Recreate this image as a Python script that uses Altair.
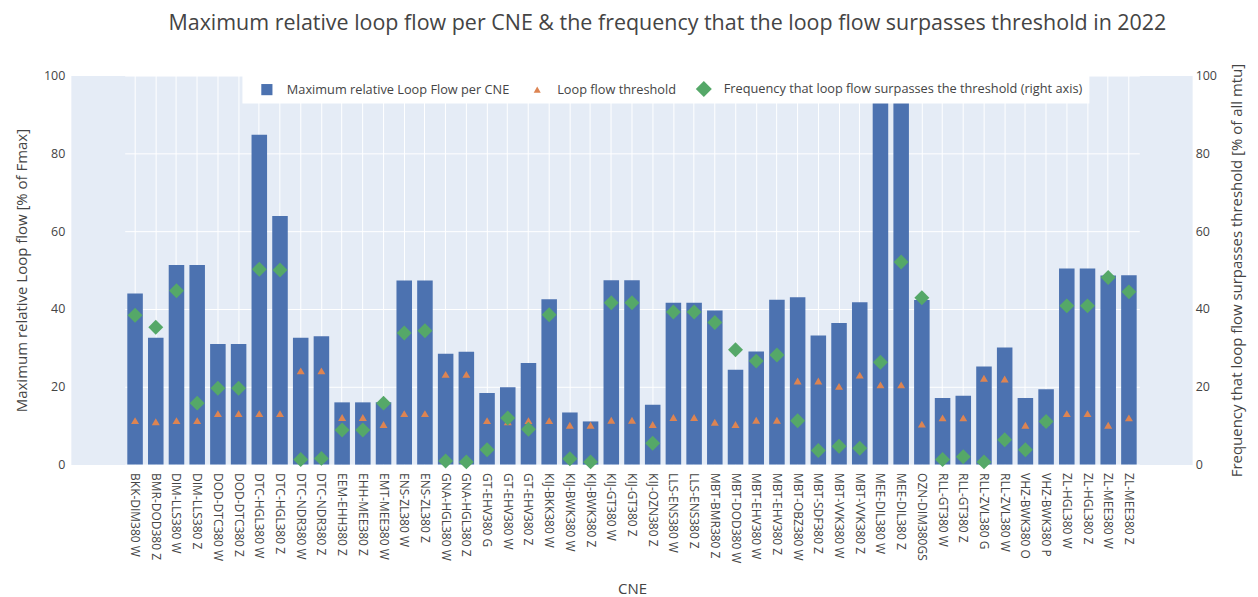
import altair as alt
import pandas as pd

cne = [
    "BKK-DIM380 W", "BMR-DOD380 Z", "DIM-LLS380 W", "DIM-LLS380 Z", "DOD-DTC380 W",
    "DOD-DTC380 Z", "DTC-HGL380 W", "DTC-HGL380 Z", "DTC-NDR380 W", "DTC-NDR380 Z",
    "EEM-EHH380 Z", "EHH-MEE380 Z", "EMT-MEE380 W", "ENS-ZL380 W", "ENS-ZL380 Z",
    "GNA-HGL380 W", "GNA-HGL380 Z", "GT-EHV380 G", "GT-EHV380 W", "GT-EHV380 Z",
    "KIJ-BKK380 W", "KIJ-BWK380 W", "KIJ-BWK380 Z", "KIJ-GT380 W", "KIJ-GT380 Z",
    "KIJ-OZN380 Z", "LLS-ENS380 W", "LLS-ENS380 Z", "MBT-BMR380 Z", "MBT-DOD380 W",
    "MBT-EHV380 W", "MBT-EHV380 Z", "MBT-OBZ380 W", "MBT-SDF380 Z", "MBT-VVK380 W",
    "MBT-VVK380 Z", "MEE-DIL380 W", "MEE-DIL380 Z", "OZN-DIM380GS", "RLL-GT380 W",
    "RLL-GT380 Z", "RLL-ZVL380 G", "RLL-ZVL380 W", "VHZ-BWK380 O", "VHZ-BWK380 P",
    "ZL-HGL380 W", "ZL-HGL380 Z", "ZL-MEE380 W", "ZL-MEE380 Z",
]

max_loop_flow = [
    44.0, 32.6, 51.3, 51.3, 31.0, 31.0, 84.8, 63.9, 32.6, 33.0,
    16.0, 16.0, 16.0, 47.3, 47.3, 28.5, 29.0, 18.4, 19.9, 26.1,
    42.5, 13.4, 11.1, 47.4, 47.4, 15.4, 41.6, 41.6, 39.6, 24.4,
    29.1, 42.4, 43.0, 33.2, 36.4, 41.7, 100.0, 100.0, 42.3, 17.1,
    17.7, 25.2, 30.1, 17.1, 19.4, 50.4, 50.4, 48.6, 48.7,
]

threshold = [
    11.3, 11.0, 11.3, 11.3, 13.1, 13.1, 13.1, 13.1, 24.1, 24.1,
    12.1, 12.1, 10.3, 13.1, 13.1, 23.2, 23.2, 11.3, 11.0, 11.3,
    11.3, 10.1, 10.1, 11.4, 11.4, 10.3, 12.1, 12.1, 10.9, 10.3,
    11.4, 11.4, 21.5, 21.5, 20.1, 23.0, 20.5, 20.5, 10.4, 12.0,
    12.0, 22.2, 22.0, 10.1, 11.0, 13.1, 13.1, 10.1, 12.0,
]

frequency = [
    38.4, 35.3, 44.7, 15.8, 19.6, 19.6, 50.2, 50.0, 1.3, 1.6,
    8.9, 8.9, 15.8, 33.8, 34.4, 0.9, 0.7, 3.8, 12.0, 9.1,
    38.5, 1.5, 0.7, 41.6, 41.6, 5.5, 39.2, 39.2, 36.5, 29.5,
    26.6, 28.2, 11.3, 3.6, 4.7, 4.2, 26.3, 52.1, 42.9, 1.3,
    2.0, 0.7, 6.4, 3.8, 11.1, 40.8, 40.8, 48.1, 44.4,
]

axis_ticks = [0, 20, 40, 60, 80, 100]

series_names = [
    "Maximum relative Loop Flow per CNE",
    "Loop flow threshold",
    "Frequency that loop flow surpasses the threshold (right axis)",
]
series_colors = ["#4C72B0", "#DD8452", "#55A868"]
series_shapes = [
    "M-0.7,-0.7L0.7,-0.7L0.7,0.7L-0.7,0.7Z",
    "M0,-0.38L0.44,0.38L-0.44,0.38Z",
    "M0,-1L1,0L0,1L-1,0Z",
]

df = pd.DataFrame({"cne": cne, "max_lf": max_loop_flow, "threshold": threshold, "freq": frequency})

FONT = "Open Sans"
TXT = "#444444"

legend = alt.Legend(
    title=None, orient="none", legendX=172, legendY=-1, direction="horizontal",
    fillColor="white", padding=6.5, symbolOffset=10, labelOffset=12, columnPadding=9,
    symbolSize=256, labelFont=FONT, labelFontSize=12.8, labelColor=TXT, labelLimit=600,
    symbolOpacity=1, symbolStrokeWidth=0,
)
color_scale = alt.Scale(domain=series_names, range=series_colors)
shape_scale = alt.Scale(domain=series_names, range=series_shapes)

x_scale = alt.Scale(range=[54, 1071], paddingInner=0.25, paddingOuter=0.125)
x_axis = alt.Axis(title="CNE", labelAngle=90, labelPadding=8, grid=True, titlePadding=19)
xenc = alt.X("cne:N", sort=cne, scale=x_scale, axis=x_axis)

y_scale = alt.Scale(domain=[0, 100])
left_axis = alt.Axis(values=axis_ticks, title="Maximum relative Loop flow [% of Fmax]",
                     labelPadding=6, titlePadding=14, grid=True, labelFontSize=12.5)
right_axis = alt.Axis(values=axis_ticks, orient="right", grid=False,
                      title="Frequency that loop flow surpasses threshold [% of all mtu]",
                      labelPadding=3, titlePadding=13, titleAngle=270, titleBaseline="top",
                      labelFontSize=12.5)

color_enc = alt.Color("series:N", scale=color_scale, legend=legend)
shape_enc = alt.Shape("series:N", scale=shape_scale, legend=legend)

base = alt.Chart(df)

bars = base.mark_bar().transform_calculate(series=f"'{series_names[0]}'").encode(
    x=xenc,
    y=alt.Y("max_lf:Q", scale=y_scale, axis=left_axis),
    color=color_enc,
)

tri = base.mark_point(filled=True, opacity=1, size=331).transform_calculate(
    series=f"'{series_names[1]}'"
).encode(
    x=xenc,
    y=alt.Y("threshold:Q", scale=y_scale, axis=left_axis),
    color=color_enc,
    shape=shape_enc,
)

dia = base.mark_point(filled=True, opacity=1, size=225).transform_calculate(
    series=f"'{series_names[2]}'"
).encode(
    x=xenc,
    y=alt.Y("freq:Q", scale=y_scale, axis=right_axis),
    color=color_enc,
    shape=shape_enc,
)

left = alt.layer(bars, tri)

chart = alt.layer(left, dia).resolve_scale(y="independent").properties(
    width=1124,
    height=390,
    autosize=alt.AutoSizeParams(type="none"),
    padding={"left": 63, "top": 67, "right": 58, "bottom": 132},
    title=alt.TitleParams(
        text="Maximum relative loop flow per CNE & the frequency that the loop flow surpasses threshold in 2022",
        font=FONT, fontSize=21.5, fontWeight="normal", color=TXT, anchor="middle",
        frame="group", dx=36, offset=29,
    ),
).configure(font=FONT, background="white").configure_view(
    fill="#E5ECF6", stroke="transparent"
).configure_axis(
    domain=False, ticks=False, tickSize=0, labelFont=FONT, labelFontSize=12, labelColor=TXT,
    titleFont=FONT, titleFontSize=15, titleColor=TXT, titleFontWeight="normal",
    gridColor="white", gridWidth=1, gridOpacity=1,
)

chart.save("out.html", embed_options={"renderer": "svg", "actions": False})
